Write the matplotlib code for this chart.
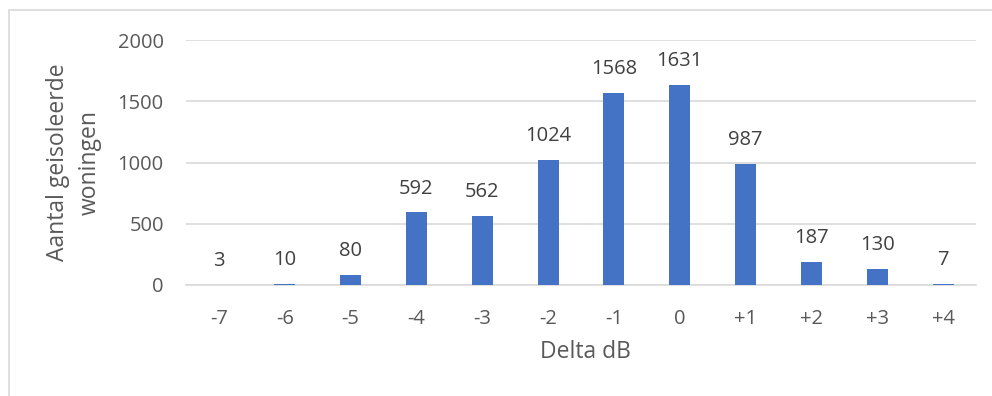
import matplotlib.pyplot as plt
from matplotlib.patches import Rectangle

categories = ['-7', '-6', '-5', '-4', '-3', '-2', '-1', '0', '+1', '+2', '+3', '+4']
counts = [3, 10, 80, 592, 562, 1024, 1568, 1631, 987, 187, 130, 7]

bar_color = '#4472C4'
text_color = '#595959'
grid_color = '#D9D9D9'

plt.rcParams['font.family'] = ['Open Sans', 'DejaVu Sans']

fig = plt.figure(figsize=(9.92, 3.96), dpi=100)
ax = fig.add_axes([186 / 992, 111 / 396, 790 / 992, 245 / 396])

# light chart border (left and top edges visible)
fig.patches.append(Rectangle((9 / 992, -0.1), 1.2, 1.1 - 10 / 396,
                             transform=fig.transFigure, fill=False,
                             edgecolor='#D9D9D9', linewidth=1.2))

x = range(len(categories))
ax.bar(x, counts, width=0.32, color=bar_color, zorder=3)

for xi, v in zip(x, counts):
    ax.annotate(str(v), (xi, v), xytext=(0, 10), textcoords='offset points',
                ha='center', va='bottom', fontsize=14.5, color='#404040')

ax.set_xlim(-0.5, len(categories) - 0.5)
ax.set_ylim(0, 2000)
ax.set_yticks([0, 500, 1000, 1500, 2000])
ax.set_xticks(list(x))
ax.set_xticklabels(categories)
ax.tick_params(axis='both', length=0, labelsize=14.5, labelcolor=text_color)
ax.tick_params(axis='x', pad=17)
ax.tick_params(axis='y', pad=16)
ax.yaxis.grid(True, color=grid_color, linewidth=1.2, zorder=0)

for side in ['top', 'right', 'left']:
    ax.spines[side].set_visible(False)
ax.spines['bottom'].set_color(grid_color)
ax.spines['bottom'].set_linewidth(1.2)

ax.set_xlabel('Delta dB', fontsize=16.5, color=text_color)
ax.xaxis.set_label_coords(0.505, -0.225)
ax.set_ylabel('Aantal geisoleerde\nwoningen', fontsize=16.5, color=text_color,
              linespacing=1.45, va='center')
ax.yaxis.set_label_coords(-0.142, 0.5)

fig.savefig('out.png', dpi=100)
